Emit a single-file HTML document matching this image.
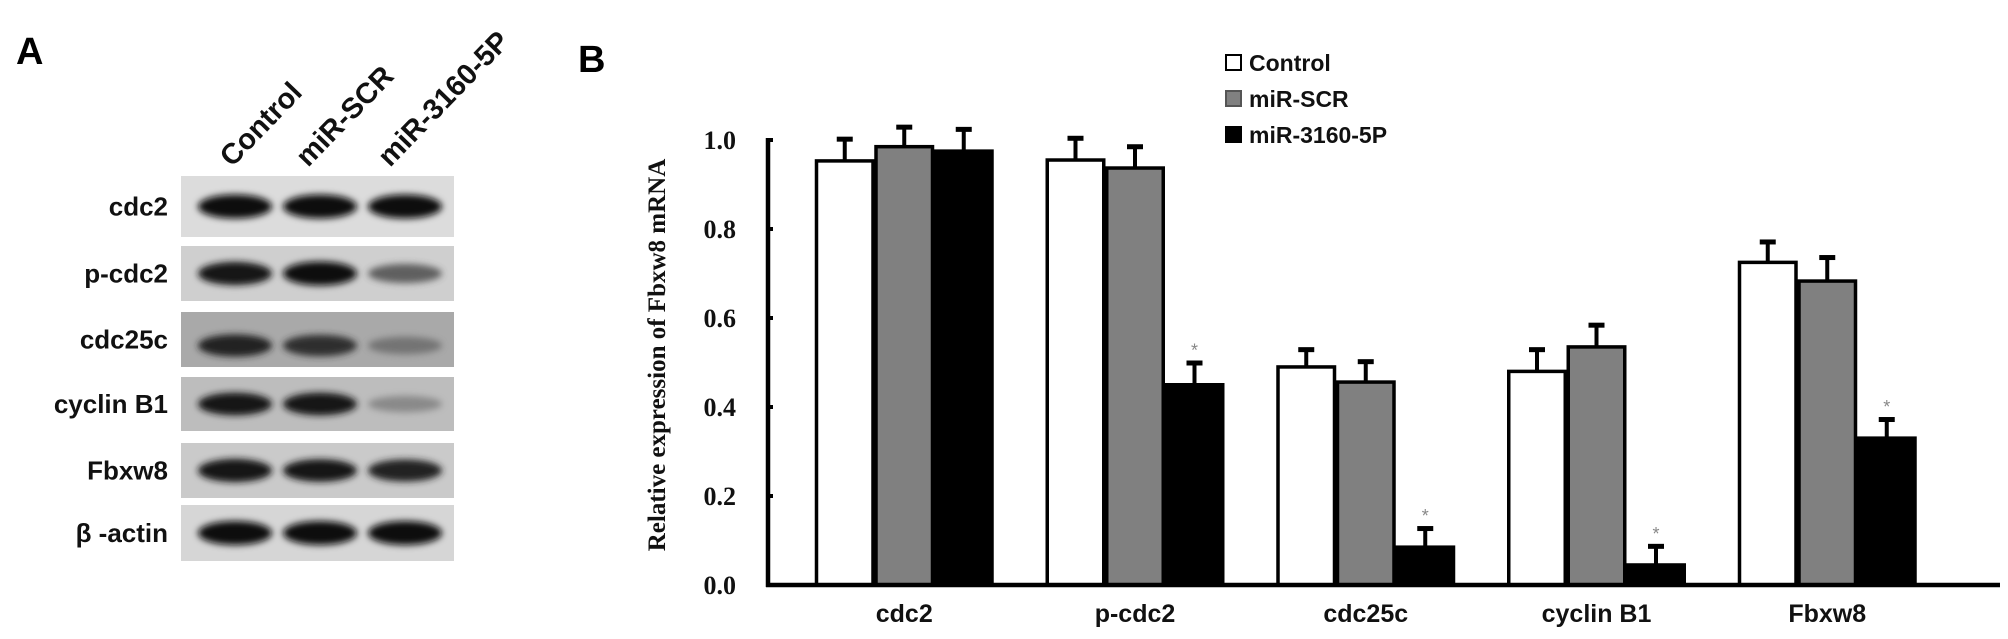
<!DOCTYPE html>
<html><head><meta charset="utf-8"><style>
html,body{margin:0;padding:0;background:#fff;}
svg{display:block;}
</style></head><body>
<svg id="fig" width="2008" height="639" viewBox="0 0 2008 639" xmlns="http://www.w3.org/2000/svg">
<defs>
<filter id="blur" x="-20%" y="-80%" width="140%" height="260%"><feGaussianBlur stdDeviation="3.5"/></filter>
</defs>
<text x="16" y="64" font-family="Liberation Sans, sans-serif" font-weight="bold" font-size="38">A</text>
<text x="578" y="72" font-family="Liberation Sans, sans-serif" font-weight="bold" font-size="38">B</text>
<g id="blots"></g>
<g id="chart"></g>
</svg>
<script>
const NS='http://www.w3.org/2000/svg';
function mk(tag,attrs,parent){const e=document.createElementNS(NS,tag);for(const k in attrs)e.setAttribute(k,attrs[k]);parent.appendChild(e);return e;}

// ---- Western blot panel ----
const blotRows=['cdc2','p-cdc2','cdc25c','cyclin B1','Fbxw8','β -actin'];
const blotLanes=['Control','miR-SCR','miR-3160-5P'];
const blotIntensity=[[1,1,1],[0.95,1,0.6],[0.85,0.8,0.45],[0.9,0.9,0.35],[0.95,0.9,0.85],[1,1,1]];
const rowTop=[176,246,312,377,443,505];
const rowBot=[237,301,367,431,498,561];
const rowBg=['#dcdcdc','#cfcfcf','#a9a9a9','#bdbdbd','#cacaca','#d6d6d6'];
const blots=document.getElementById('blots');
const laneX=[232,308,390];
blotLanes.forEach((l,i)=>{
  const t=mk('text',{x:laneX[i],y:168,transform:`rotate(-46 ${laneX[i]} 168)`,'font-family':'Liberation Sans, sans-serif','font-weight':'bold','font-size':'29',fill:'#111'},blots);
  t.textContent=l;
  
  
});
const laneC=[235,320,405];
blotRows.forEach((r,i)=>{
  const g=mk('g',{},blots);
  
  
  mk('rect',{x:181,y:rowTop[i],width:273,height:rowBot[i]-rowTop[i],fill:rowBg[i]},g);
  const cy=(rowTop[i]+rowBot[i])/2+(i===2?6:0);
  blotIntensity[i].forEach((v,j)=>{
    const c=Math.round(255*(1-v)*0.6+10);
    mk('ellipse',{cx:laneC[j],cy:cy,rx:37,ry:6+v*6,fill:`rgb(${c},${c},${c})`,opacity:Math.min(1,0.4+v*0.7),filter:'url(#blur)'},g);
  });
  const t=mk('text',{x:168,y:(rowTop[i]+rowBot[i])/2+9,'text-anchor':'end','font-family':'Liberation Sans, sans-serif','font-weight':'bold','font-size':'26',fill:'#111'},blots);
  t.textContent=r;
  
  
});

// ---- Bar chart ----
const categories=['cdc2','p-cdc2','cdc25c','cyclin B1','Fbxw8'];
const seriesNames=['Control','miR-SCR','miR-3160-5P'];
const controlVals=[0.953,0.955,0.49,0.48,0.725];
const scrVals=[0.985,0.937,0.456,0.535,0.683];
const mirVals=[0.975,0.45,0.085,0.045,0.33];
const controlErr=[0.05,0.05,0.04,0.05,0.047];
const scrErr=[0.045,0.049,0.047,0.05,0.054];
const mirErr=[0.05,0.05,0.043,0.043,0.043];
const mirSig=[false,true,true,true,true];
const yTicks=[0,0.2,0.4,0.6,0.8,1.0];
const yTickLabels=['0.0','0.2','0.4','0.6','0.8','1.0'];

const chart=document.getElementById('chart');
const axX=768, base=585, pxPerUnit=445, g0=815, gStep=230.75, bw=59.5;
const yS=v=>base-v*pxPerUnit;
const xS=(ci,si)=>g0+ci*gStep+si*bw;
const fills=['#ffffff','#808080','#000000'];
const vals=[controlVals,scrVals,mirVals];
const errs=[controlErr,scrErr,mirErr];

categories.forEach((c,ci)=>{
  vals.forEach((arr,si)=>{
    const x=xS(ci,si), y=yS(arr[ci]), e=errs[si][ci];
    const ey=yS(arr[ci]+e), cx=x+bw/2;
    const el=mk('line',{x1:cx,y1:y,x2:cx,y2:ey,stroke:'#000','stroke-width':4},chart);
    
    
    const cap=mk('rect',{x:cx-8,y:ey-2,width:16,height:5,fill:'#000'},chart);
    
    
    const r=mk('rect',{x:x+1.5,y:y,width:bw-3,height:base-y,fill:fills[si],stroke:'#000','stroke-width':3.5},chart);
    
    
    if(si===2&&mirSig[ci]){
      const s=mk('text',{x:cx,y:ey-6,'text-anchor':'middle','font-family':'Liberation Sans, sans-serif','font-size':'18',fill:'#888'},chart);
      s.textContent='*';
      
      
    }
  });
  const t=mk('text',{x:g0+ci*gStep+1.5*bw,y:622,'text-anchor':'middle','font-family':'Liberation Sans, sans-serif','font-weight':'bold','font-size':'25',fill:'#111'},chart);
  t.textContent=c;
  
  
});
// axes
const ya=mk('line',{x1:axX,y1:yS(1.0)-2,x2:axX,y2:base+2,stroke:'#000','stroke-width':4.5},chart);


const xa=mk('line',{x1:axX-2,y1:base,x2:2000,y2:base,stroke:'#000','stroke-width':4.5},chart);


yTicks.forEach((v,i)=>{
  const tk=mk('line',{x1:axX,y1:yS(v),x2:axX+5,y2:yS(v),stroke:'#000','stroke-width':4},chart);
  
  
  const t=mk('text',{x:736,y:yS(v)+9,'text-anchor':'end','font-family':'Liberation Serif, serif','font-weight':'bold','font-size':'26',fill:'#111'},chart);
  t.textContent=yTickLabels[i];
  
  
});
const yt=mk('text',{x:665,y:355,transform:'rotate(-90 665 355)','text-anchor':'middle','font-family':'Liberation Serif, serif','font-weight':'bold','font-size':'25',fill:'#111'},chart);
yt.textContent='Relative expression of Fbxw8 mRNA';


// legend
const legY=[63,99,135];
seriesNames.forEach((n,i)=>{
  const sq=mk('rect',{x:1226,y:legY[i]-8,width:15,height:15,fill:fills[i],stroke:i===1?'#555':'#000','stroke-width':2},chart);
  
  
  const t=mk('text',{x:1249,y:legY[i]+8,'font-family':'Liberation Sans, sans-serif','font-weight':'bold','font-size':'23',fill:'#111'},chart);
  t.textContent=n;
  
  
});
</script>
</body></html>
